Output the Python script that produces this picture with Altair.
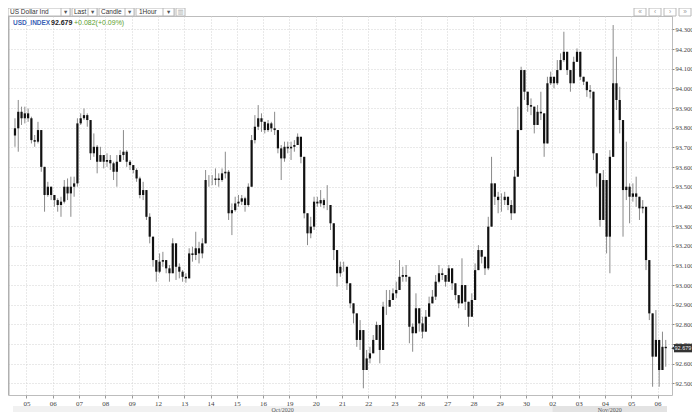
import altair as alt
import pandas as pd

# ---------------- data ----------------
day_labels = ["05", "06", "07", "08", "09", "12", "13", "14", "15", "16",
              "19", "20", "21", "22", "23", "26", "27", "28", "29", "30",
              "02", "03", "04", "05", "06"]
months = ["Oct/2020", "Nov/2020"]
y_ticks = [92.5, 92.6, 92.7, 92.8, 92.9, 93.0, 93.1, 93.2, 93.3, 93.4,
           93.5, 93.6, 93.7, 93.8, 93.9, 94.0, 94.1, 94.2, 94.3]

# 3-hour candles: tail of Oct 2 (4), 24 full days (8 each), Nov 6 (3)
first_open = 93.760
close_ = [
    93.797, 93.881, 93.848, 93.873,
    93.848, 93.737, 93.729, 93.788, 93.601, 93.458, 93.500, 93.458,
    93.432, 93.407, 93.424, 93.500, 93.466, 93.500, 93.517, 93.822,
    93.848, 93.864, 93.839, 93.670, 93.703, 93.627, 93.661, 93.627,
    93.636, 93.619, 93.576, 93.627, 93.661, 93.678, 93.627, 93.610,
    93.585, 93.542, 93.458, 93.483, 93.347, 93.246, 93.127, 93.068,
    93.119, 93.127, 93.085, 93.060, 93.212, 93.093, 93.068, 93.042,
    93.034, 93.161, 93.153, 93.187, 93.161, 93.212, 93.534, 93.534,
    93.534, 93.542, 93.534, 93.568, 93.576, 93.365, 93.381, 93.415,
    93.424, 93.441, 93.407, 93.500, 93.737, 93.805, 93.848, 93.830,
    93.788, 93.822, 93.797, 93.788, 93.695, 93.644, 93.703, 93.695,
    93.703, 93.712, 93.754, 93.652, 93.365, 93.263, 93.297, 93.424,
    93.415, 93.432, 93.407, 93.407, 93.314, 93.178, 93.060, 93.093,
    93.093, 93.009, 92.907, 92.856, 92.721, 92.771, 92.568, 92.627,
    92.653, 92.721, 92.797, 92.670, 92.890, 92.890, 92.924, 92.958,
    92.975, 93.042, 93.051, 93.042, 92.788, 92.755, 92.882, 92.805,
    92.763, 92.839, 92.907, 92.941, 93.017, 93.060, 93.051, 93.017,
    93.085, 93.009, 92.949, 92.907, 93.000, 92.915, 92.839, 92.924,
    93.076, 93.178, 93.144, 93.085, 93.297, 93.517, 93.449, 93.432,
    93.432, 93.449, 93.407, 93.365, 93.551, 93.788, 94.093, 93.983,
    93.915, 93.907, 93.814, 93.881, 93.873, 93.720, 94.026, 94.059,
    94.026, 94.093, 94.144, 94.186, 94.093, 94.026, 94.135, 94.186,
    94.059, 94.034, 93.991, 93.983, 93.670, 93.568, 93.331, 93.534,
    93.246, 93.652, 94.026, 93.941, 93.839, 93.483, 93.500, 93.449,
    93.466, 93.449, 93.390, 93.398, 93.127, 92.856, 92.636, 92.721,
    92.568, 92.686, 92.679,
]
high_ = [
    93.848, 93.941, 93.907, 93.907,
    93.898, 93.856, 93.763, 93.830, 93.788, 93.568, 93.525, 93.500,
    93.458, 93.441, 93.449, 93.534, 93.542, 93.551, 93.551, 93.848,
    93.873, 93.898, 93.873, 93.839, 93.771, 93.712, 93.703, 93.661,
    93.670, 93.661, 93.627, 93.661, 93.686, 93.788, 93.686, 93.636,
    93.610, 93.593, 93.551, 93.525, 93.483, 93.365, 93.246, 93.127,
    93.161, 93.169, 93.127, 93.102, 93.238, 93.212, 93.110, 93.076,
    93.060, 93.187, 93.195, 93.271, 93.220, 93.238, 93.585, 93.559,
    93.559, 93.593, 93.568, 93.593, 93.678, 93.585, 93.415, 93.449,
    93.458, 93.458, 93.449, 93.517, 93.763, 93.864, 93.915, 93.873,
    93.830, 93.839, 93.830, 93.881, 93.788, 93.712, 93.729, 93.729,
    93.729, 93.737, 93.771, 93.754, 93.517, 93.347, 93.347, 93.449,
    93.449, 93.483, 93.441, 93.508, 93.407, 93.280, 93.178, 93.119,
    93.119, 93.093, 92.975, 92.907, 92.839, 92.822, 92.670, 92.670,
    92.686, 92.746, 92.814, 92.788, 92.915, 92.975, 92.975, 92.983,
    93.017, 93.127, 93.093, 93.102, 93.042, 92.805, 92.958, 92.856,
    92.839, 92.873, 92.941, 92.975, 93.051, 93.102, 93.085, 93.051,
    93.102, 93.085, 93.009, 92.949, 93.136, 92.992, 92.907, 92.958,
    93.110, 93.203, 93.178, 93.144, 93.347, 93.652, 93.500, 93.474,
    93.466, 93.474, 93.449, 93.432, 93.585, 93.907, 94.110, 94.059,
    93.966, 93.949, 93.873, 93.915, 93.983, 93.864, 94.059, 94.085,
    94.059, 94.144, 94.178, 94.288, 94.178, 94.076, 94.161, 94.203,
    94.178, 94.059, 94.026, 94.017, 93.957, 93.636, 93.568, 93.585,
    93.466, 93.686, 94.322, 94.161, 94.008, 93.839, 93.729, 93.517,
    93.517, 93.551, 93.432, 93.432, 93.398, 93.060, 92.856, 92.873,
    92.686, 92.763, 92.721,
]
low_ = [
    93.703, 93.678, 93.814, 93.822,
    93.830, 93.720, 93.703, 93.720, 93.576, 93.373, 93.449, 93.432,
    93.398, 93.373, 93.347, 93.415, 93.432, 93.347, 93.449, 93.500,
    93.814, 93.839, 93.805, 93.636, 93.652, 93.568, 93.627, 93.593,
    93.601, 93.585, 93.534, 93.500, 93.627, 93.636, 93.601, 93.585,
    93.568, 93.525, 93.441, 93.432, 93.331, 93.212, 93.093, 93.017,
    93.060, 93.093, 93.060, 93.017, 93.093, 93.026, 93.034, 93.017,
    93.012, 93.034, 93.119, 93.127, 93.110, 93.136, 93.212, 93.500,
    93.508, 93.508, 93.500, 93.525, 93.542, 93.331, 93.254, 93.373,
    93.398, 93.407, 93.373, 93.398, 93.627, 93.720, 93.788, 93.779,
    93.771, 93.779, 93.779, 93.763, 93.670, 93.534, 93.627, 93.670,
    93.636, 93.678, 93.720, 93.619, 93.339, 93.203, 93.238, 93.280,
    93.398, 93.398, 93.390, 93.381, 93.280, 93.127, 92.992, 93.042,
    93.068, 92.975, 92.882, 92.805, 92.686, 92.670, 92.475, 92.585,
    92.602, 92.670, 92.755, 92.602, 92.788, 92.848, 92.890, 92.924,
    92.933, 92.975, 93.017, 93.017, 92.704, 92.661, 92.805, 92.763,
    92.729, 92.763, 92.864, 92.907, 92.924, 93.009, 93.026, 92.992,
    93.051, 92.975, 92.924, 92.882, 92.907, 92.873, 92.788, 92.839,
    93.009, 93.102, 93.110, 93.051, 93.076, 93.314, 93.407, 93.365,
    93.373, 93.407, 93.381, 93.331, 93.398, 93.670, 93.890, 93.941,
    93.881, 93.864, 93.771, 93.830, 93.839, 93.652, 93.822, 94.017,
    94.000, 94.017, 94.093, 94.135, 94.068, 93.983, 94.042, 94.144,
    94.042, 94.017, 93.957, 93.949, 93.636, 93.500, 93.297, 93.398,
    93.161, 93.060, 93.670, 93.890, 93.771, 93.246, 93.432, 93.314,
    93.424, 93.398, 93.331, 93.365, 93.076, 92.822, 92.483, 92.653,
    92.483, 92.585, 92.585,
]

symbol = "USD_INDEX"
last_txt = "92.679"
change_txt = "+0.082(+0.09%)"
toolbar = ["US Dollar Ind", "Last", "Candle", "1Hour"]

# ---------------- build candle table ----------------
PER_DAY = 8
slots = [(-1, j) for j in range(4, 8)]
for d in range(24):
    slots += [(d, j) for j in range(PER_DAY)]
slots += [(24, j) for j in range(3)]
t = [d + (j + 0.5) / PER_DAY for d, j in slots]

open_ = [first_open] + close_[:-1]
hi = [max(h, o, c) for h, o, c in zip(high_, open_, close_)]
lo = [min(l, o, c) for l, o, c in zip(low_, open_, close_)]
df = pd.DataFrame({"t": t, "open": open_, "high": hi, "low": lo, "close": close_})

W, H = 664, 379
X0, X1 = -0.5125, 24.36
xs = alt.Scale(domain=[X0, X1], nice=False, zero=False)
ys = alt.Scale(domain=[92.441, 94.368], nice=False, zero=False)

label_expr = "[" + ",".join("'%s'" % d for d in day_labels) + "][datum.value]"

x_axis = alt.Axis(values=list(range(len(day_labels))), labelExpr=label_expr,
                  grid=True, gridDash=[1, 2], gridColor="#d2d2d2",
                  tickSize=3, tickColor="#9a9a9a", domain=False,
                  labelFont="Liberation Serif", labelFontSize=7,
                  labelColor="#444", labelPadding=1, title=None)
y_axis = alt.Axis(orient="right", values=y_ticks, format=".3f",
                  grid=True, gridDash=[1, 2], gridColor="#d2d2d2",
                  tickSize=2, tickColor="#888", domain=False,
                  labelFont="Liberation Serif", labelFontSize=6.5,
                  labelColor="#444", labelPadding=1, title=None)

base = alt.Chart(df)
wicks = base.mark_rule(color="#8a8a8a", strokeWidth=1).encode(
    x=alt.X("t:Q", scale=xs, axis=x_axis),
    y=alt.Y("low:Q", scale=ys, axis=y_axis),
    y2="high:Q",
)
bodies = base.mark_bar(color="#111111", size=2.2).encode(
    x=alt.X("t:Q", scale=xs, axis=x_axis),
    y=alt.Y("open:Q", scale=ys, axis=y_axis),
    y2="close:Q",
)

blank = alt.Data(values=[{"a": 1}])


def box(x0, x1, y0, y1, fill="#ffffff", stroke="#b8b8b8", sw=1):
    return alt.Chart(blank).mark_rect(fill=fill, stroke=stroke, strokeWidth=sw).encode(
        x=alt.value(x0), x2=alt.value(x1), y=alt.value(y0), y2=alt.value(y1))


def txt(x, y, s, size=6.5, color="#333", weight="normal", align="left",
        font="Liberation Sans"):
    return alt.Chart(blank).mark_text(text=s, fontSize=size, color=color,
                                      fontWeight=weight, align=align,
                                      baseline="alphabetic", font=font).encode(
        x=alt.value(x), y=alt.value(y))


# month band under the time axis
mdf = pd.DataFrame({"m": months, "t0": [X0, 20], "t1": [20, X1]})
band = alt.Chart(mdf).mark_rect().encode(
    x=alt.X("t0:Q", scale=xs, axis=x_axis), x2="t1:Q",
    y=alt.value(H + 11), y2=alt.value(H + 17),
    color=alt.Color("m:N", scale=alt.Scale(domain=months, range=["#f1f1f1", "#e3e3e3"]),
                    legend=None),
)
band_txt = alt.Chart(mdf).transform_calculate(mid="(datum.t0 + datum.t1) / 2").mark_text(
    fontSize=6, color="#555", font="Liberation Serif", baseline="alphabetic").encode(
    x=alt.X("mid:Q", scale=xs, axis=x_axis), y=alt.value(H + 16.5), text="m:N")

left_edge = alt.Chart(blank).mark_rule(color="#b0b0b0", strokeWidth=2).encode(
    x=alt.value(0.5), y=alt.value(0), y2=alt.value(H))

# toolbar
tb = [
    box(0, 62, -8, 0), txt(2, -2, toolbar[0]),
    box(53, 62, -8, 0), txt(57.5, -2, "\u25be", color="#555", align="center", font="DejaVu Sans"),
    box(64, 89, -8, 0), txt(66, -2, toolbar[1]),
    box(80, 89, -8, 0), txt(84.5, -2, "\u25be", color="#555", align="center", font="DejaVu Sans"),
    box(91, 126, -8, 0), txt(93, -2, toolbar[2]),
    box(117, 126, -8, 0), txt(121.5, -2, "\u25be", color="#555", align="center", font="DejaVu Sans"),
    box(128, 166, -8, 0), txt(131, -2, toolbar[3]),
    box(155, 166, -8, 0), txt(160.5, -2, "\u25be", color="#555", align="center", font="DejaVu Sans"),
    box(168, 177, -8, 0), txt(172.5, -2, "\u25a5", color="#aaa", align="center", font="DejaVu Sans"),
]
for i, g in enumerate(["\u00ab", "\u2039", "\u203a", "\u00bb"]):
    x0 = 626 + 15 * i
    tb += [box(x0, x0 + 12, -8, 0), txt(x0 + 6, -2, g, color="#999", align="center")]

header = [
    txt(5, 8.5, symbol, size=6.5, color="#3a5fb5", weight="bold"),
    txt(43, 8.5, last_txt, size=7, color="#222", weight="bold"),
    txt(66, 8.5, change_txt, size=7, color="#5aa02c"),
]

# last price tag on the right axis
ldf = pd.DataFrame({"p": [close_[-1]]})
tag_rect = alt.Chart(ldf).transform_calculate(
    a="datum.p + 0.021", b="datum.p - 0.021").mark_rect(color="#333333").encode(
    x=alt.value(W + 2), x2=alt.value(W + 20),
    y=alt.Y("a:Q", scale=ys, axis=y_axis), y2="b:Q")
tag_tri = alt.Chart(ldf).mark_point(shape="triangle-left", filled=True, size=14,
                                    color="#333333", opacity=1).encode(
    x=alt.value(W + 1), y=alt.Y("p:Q", scale=ys, axis=y_axis))
tag_txt = alt.Chart(ldf).mark_text(fontSize=5.5, color="#f0f0f0", align="left",
                                   baseline="middle", font="Liberation Sans").encode(
    x=alt.value(W + 2.5), y=alt.Y("p:Q", scale=ys, axis=y_axis),
    text=alt.Text("p:Q", format=".3f"))

chart = alt.layer(
    wicks, bodies, band, band_txt, left_edge, *tb, *header, tag_rect, tag_tri, tag_txt
).properties(
    width=W, height=H,
    autosize=alt.AutoSizeParams(type="none"),
    padding={"left": 0, "top": 8, "right": 20, "bottom": 17},
    background="#ffffff",
).configure_view(stroke="#bdbdbd", strokeWidth=1)

chart.save("out.html", embed_options={"renderer": "svg", "actions": False})
